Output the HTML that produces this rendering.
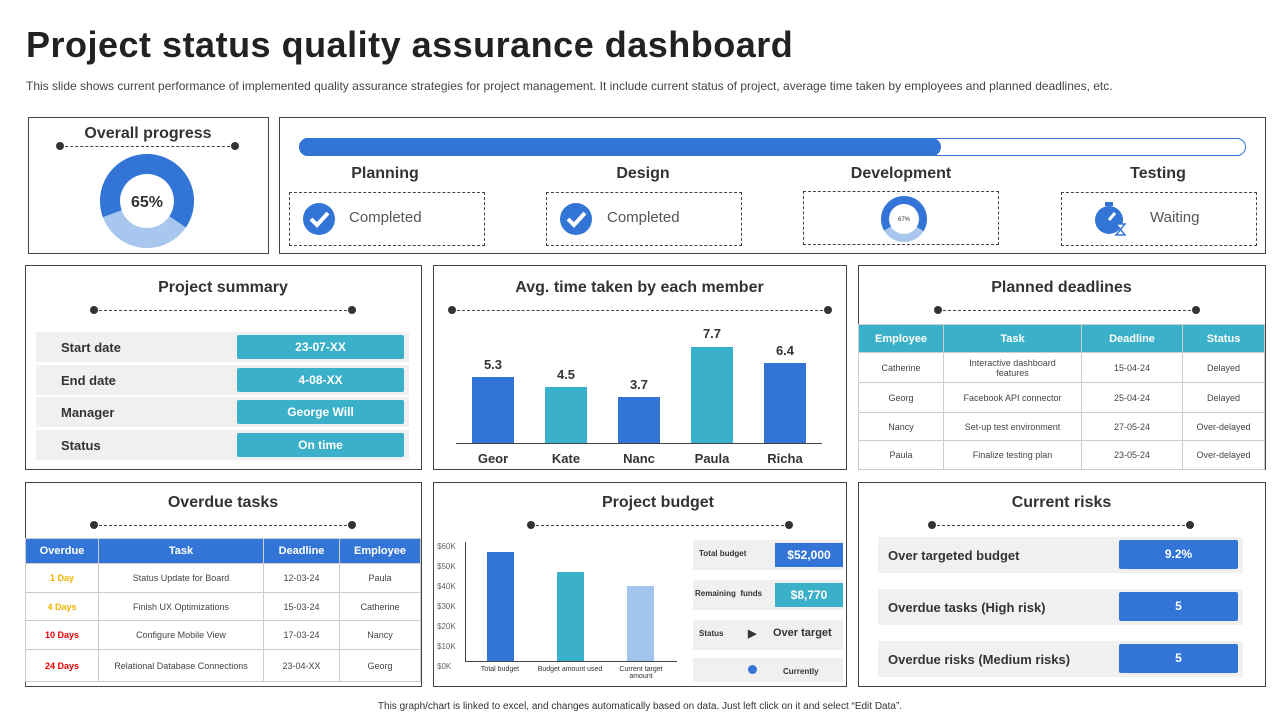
<!DOCTYPE html>
<html><head><meta charset="utf-8"><style>
*{margin:0;padding:0;box-sizing:border-box}
body{width:1280px;height:720px;background:#fff;font-family:"Liberation Sans",sans-serif;color:#333;position:relative;overflow:hidden}
.a{position:absolute}
.p{position:absolute;border:1px solid #444;background:#fff}
.t{position:absolute;font-weight:bold;font-size:16px;color:#333;text-align:center}
.dl{position:absolute;border-top:1.5px dashed #444;height:0}
.dot{position:absolute;width:8px;height:8px;border-radius:50%;background:#333}
.db{position:absolute;border:1px dashed #444}
.row{position:absolute;background:#f0f0f0;font-size:13px;font-weight:bold;color:#333}
.val{position:absolute;background:#3bb0c9;color:#fff;font-weight:bold;font-size:12px;text-align:center;border-radius:2px}
table{border-collapse:collapse;position:absolute;font-size:9px;color:#444}
td,th{border:1px solid #ccc;text-align:center}
th{color:#fff;font-size:11px}
</style></head><body>
<div class="a" style="left:26px;top:24px;font-size:36px;font-weight:bold;color:#222;letter-spacing:0.5px">Project status quality assurance dashboard</div>
<div class="a" style="left:26px;top:79px;font-size:12px;color:#444">This slide shows current performance of implemented quality assurance strategies for project management. It include current status of project, average time taken by employees and planned deadlines, etc.</div>

<!-- overall -->
<div class="p" style="left:28px;top:117px;width:241px;height:137px"></div>
<div class="t" style="left:28px;top:125px;width:240px">Overall progress</div>
<div class="dl" style="left:60px;top:146px;width:175px"></div><div class="dot" style="left:56px;top:142px"></div><div class="dot" style="left:231px;top:142px"></div>
<svg class="a" style="left:99px;top:153px" width="96" height="96" viewBox="-48 -48 96 96">
<circle r="37" fill="none" stroke="#a8c6ee" stroke-width="20"/>
<circle r="37" fill="none" stroke="#3375d6" stroke-width="20" stroke-dasharray="151 233" transform="rotate(-200)"/>
<text x="0" y="6" text-anchor="middle" font-size="16" font-weight="bold" fill="#333" font-family="Liberation Sans">65%</text></svg>

<!-- stages -->
<div class="p" style="left:279px;top:117px;width:987px;height:137px"></div>
<div class="a" style="left:299px;top:138px;width:947px;height:18px;border:1px solid #3375d6;border-radius:9px"></div>
<div class="a" style="left:299px;top:138px;width:642px;height:18px;background:#3375d6;border-radius:9px"></div>
<div class="t" style="left:305px;top:165px;width:160px">Planning</div>
<div class="t" style="left:563px;top:165px;width:160px">Design</div>
<div class="t" style="left:821px;top:165px;width:160px">Development</div>
<div class="t" style="left:1078px;top:165px;width:160px">Testing</div>
<div class="db" style="left:289px;top:192px;width:196px;height:54px"></div>
<div class="db" style="left:546px;top:192px;width:196px;height:54px"></div>
<div class="db" style="left:803px;top:191px;width:196px;height:54px"></div>
<div class="db" style="left:1061px;top:192px;width:196px;height:54px"></div>
<svg class="a" style="left:302px;top:202px" width="34" height="34"><circle cx="17" cy="17" r="16" fill="#3375d6"/><path d="M9 17 l6 6 l11 -12" stroke="#fff" stroke-width="4" fill="none"/></svg>
<div class="a" style="left:349px;top:209px;font-size:15px;color:#555">Completed</div>
<svg class="a" style="left:559px;top:202px" width="34" height="34"><circle cx="17" cy="17" r="16" fill="#3375d6"/><path d="M9 17 l6 6 l11 -12" stroke="#fff" stroke-width="4" fill="none"/></svg>
<div class="a" style="left:607px;top:209px;font-size:15px;color:#555">Completed</div>
<svg class="a" style="left:879px;top:194px" width="50" height="50" viewBox="-25 -25 50 50"><circle r="19" fill="none" stroke="#a8c6ee" stroke-width="8"/><circle r="19" fill="none" stroke="#3375d6" stroke-width="8" stroke-dasharray="80 120" transform="rotate(-210)"/><text y="2" text-anchor="middle" font-size="6" fill="#333">67%</text></svg>
<svg class="a" style="left:1094px;top:200px" width="34" height="36"><circle cx="15" cy="20" r="14" fill="#3375d6"/><rect x="11" y="2" width="8" height="4" fill="#3375d6"/><path d="M15 20 l6 -7" stroke="#fff" stroke-width="3"/><path d="M22 24 h9 l-9 11 h9 z" fill="#fff" stroke="#3375d6" stroke-width="1.5"/></svg>
<div class="a" style="left:1150px;top:209px;font-size:15px;color:#555">Waiting</div>

<!-- project summary -->
<div class="p" style="left:25px;top:265px;width:397px;height:205px"></div>
<div class="t" style="left:25px;top:279px;width:396px">Project summary</div>
<div class="dl" style="left:94px;top:310px;width:258px"></div><div class="dot" style="left:90px;top:306px"></div><div class="dot" style="left:348px;top:306px"></div>
<div class="row" style="left:36px;top:332px;width:373px;height:30px;padding:8px 25px">Start date</div>
<div class="row" style="left:36px;top:365px;width:373px;height:30px;padding:8px 25px">End date</div>
<div class="row" style="left:36px;top:397px;width:373px;height:30px;padding:8px 25px">Manager</div>
<div class="row" style="left:36px;top:430px;width:373px;height:30px;padding:8px 25px">Status</div>
<div class="val" style="left:237px;top:335px;width:167px;height:24px;line-height:24px">23-07-XX</div>
<div class="val" style="left:237px;top:368px;width:167px;height:24px;line-height:24px">4-08-XX</div>
<div class="val" style="left:237px;top:400px;width:167px;height:24px;line-height:24px">George Will</div>
<div class="val" style="left:237px;top:433px;width:167px;height:24px;line-height:24px">On time</div>

<!-- avg time -->
<div class="p" style="left:433px;top:265px;width:414px;height:205px"></div>
<div class="t" style="left:433px;top:279px;width:413px">Avg. time taken by each member</div>
<div class="dl" style="left:452px;top:310px;width:376px"></div><div class="dot" style="left:448px;top:306px"></div><div class="dot" style="left:824px;top:306px"></div>
<div class="a" style="left:456px;top:443px;width:366px;height:1px;background:#444"></div>
<div class="a" style="left:472px;top:377px;width:42px;height:66px;background:#3375d6"></div>
<div class="a" style="left:545px;top:387px;width:42px;height:56px;background:#3bb0c9"></div>
<div class="a" style="left:618px;top:397px;width:42px;height:46px;background:#3375d6"></div>
<div class="a" style="left:691px;top:347px;width:42px;height:96px;background:#3bb0c9"></div>
<div class="a" style="left:764px;top:363px;width:42px;height:80px;background:#3375d6"></div>
<div class="a" style="left:463px;top:357px;width:60px;text-align:center;font-size:13px;font-weight:bold">5.3</div>
<div class="a" style="left:536px;top:367px;width:60px;text-align:center;font-size:13px;font-weight:bold">4.5</div>
<div class="a" style="left:609px;top:377px;width:60px;text-align:center;font-size:13px;font-weight:bold">3.7</div>
<div class="a" style="left:682px;top:326px;width:60px;text-align:center;font-size:13px;font-weight:bold">7.7</div>
<div class="a" style="left:755px;top:343px;width:60px;text-align:center;font-size:13px;font-weight:bold">6.4</div>
<div class="a" style="left:463px;top:451px;width:60px;text-align:center;font-size:13px;font-weight:bold">Geor</div>
<div class="a" style="left:536px;top:451px;width:60px;text-align:center;font-size:13px;font-weight:bold">Kate</div>
<div class="a" style="left:609px;top:451px;width:60px;text-align:center;font-size:13px;font-weight:bold">Nanc</div>
<div class="a" style="left:682px;top:451px;width:60px;text-align:center;font-size:13px;font-weight:bold">Paula</div>
<div class="a" style="left:755px;top:451px;width:60px;text-align:center;font-size:13px;font-weight:bold">Richa</div>

<!-- planned deadlines -->
<div class="p" style="left:858px;top:265px;width:408px;height:205px"></div>
<div class="t" style="left:858px;top:279px;width:407px">Planned deadlines</div>
<div class="dl" style="left:938px;top:310px;width:258px"></div><div class="dot" style="left:934px;top:306px"></div><div class="dot" style="left:1192px;top:306px"></div>
<table style="left:858px;top:324px;width:407px">
<tr style="height:28px;background:#3bb0c9"><th style="width:85px">Employee</th><th style="width:138px">Task</th><th style="width:101px">Deadline</th><th>Status</th></tr>
<tr style="height:30px"><td>Catherine</td><td>Interactive dashboard<br>features</td><td>15-04-24</td><td>Delayed</td></tr>
<tr style="height:30px"><td>Georg</td><td>Facebook API connector</td><td>25-04-24</td><td>Delayed</td></tr>
<tr style="height:28px"><td>Nancy</td><td>Set-up test environment</td><td>27-05-24</td><td>Over-delayed</td></tr>
<tr style="height:29px"><td>Paula</td><td>Finalize testing plan</td><td>23-05-24</td><td>Over-delayed</td></tr>
</table>

<!-- overdue -->
<div class="p" style="left:25px;top:482px;width:397px;height:205px"></div>
<div class="t" style="left:25px;top:494px;width:396px">Overdue tasks</div>
<div class="dl" style="left:94px;top:525px;width:258px"></div><div class="dot" style="left:90px;top:521px"></div><div class="dot" style="left:348px;top:521px"></div>
<table style="left:25px;top:538px;width:396px">
<tr style="height:25px;background:#3375d6"><th style="width:73px">Overdue</th><th style="width:165px">Task</th><th style="width:76px">Deadline</th><th>Employee</th></tr>
<tr style="height:29px"><td style="color:#f0b400;font-weight:bold">1 Day</td><td>Status Update for Board</td><td>12-03-24</td><td>Paula</td></tr>
<tr style="height:28px"><td style="color:#f0b400;font-weight:bold">4 Days</td><td>Finish UX Optimizations</td><td>15-03-24</td><td>Catherine</td></tr>
<tr style="height:29px"><td style="color:#e00;font-weight:bold">10 Days</td><td>Configure Mobile View</td><td>17-03-24</td><td>Nancy</td></tr>
<tr style="height:32px"><td style="color:#e00;font-weight:bold">24 Days</td><td>Relational Database Connections</td><td>23-04-XX</td><td>Georg</td></tr>
</table>

<!-- budget -->
<div class="p" style="left:433px;top:482px;width:414px;height:205px"></div>
<div class="t" style="left:395px;top:494px;width:526px">Project budget</div>
<div class="dl" style="left:531px;top:525px;width:258px"></div><div class="dot" style="left:527px;top:521px"></div><div class="dot" style="left:785px;top:521px"></div>
<div class="a" style="left:465px;top:542px;width:1px;height:120px;background:#444"></div>
<div class="a" style="left:465px;top:661px;width:212px;height:1px;background:#444"></div>
<div class="a" style="left:437px;top:537px;font-size:8px;color:#666;line-height:20px">$60K<br>$50K<br>$40K<br>$30K<br>$20K<br>$10K<br>$0K</div>
<div class="a" style="left:487px;top:552px;width:27px;height:109px;background:#3375d6"></div>
<div class="a" style="left:557px;top:572px;width:27px;height:89px;background:#3bb0c9"></div>
<div class="a" style="left:627px;top:586px;width:27px;height:75px;background:#a3c4ec"></div>
<div class="a" style="left:470px;top:666px;width:60px;text-align:center;font-size:7px">Total budget</div>
<div class="a" style="left:530px;top:666px;width:80px;text-align:center;font-size:7px">Budget amount used</div>
<div class="a" style="left:610px;top:666px;width:62px;text-align:center;font-size:7px">Current target amount</div>
<div class="row" style="left:693px;top:540px;width:150px;height:30px;font-size:8px;padding:9px 6px">Total budget</div>
<div class="a" style="left:775px;top:543px;width:68px;height:24px;background:#3375d6;color:#fff;font-weight:bold;font-size:12px;text-align:center;line-height:24px">$52,000</div>
<div class="row" style="left:693px;top:580px;width:150px;height:30px;font-size:8px;padding:9px 2px">Remaining &nbsp;funds</div>
<div class="a" style="left:775px;top:583px;width:68px;height:24px;background:#3bb0c9;color:#fff;font-weight:bold;font-size:12px;text-align:center;line-height:24px">$8,770</div>
<div class="row" style="left:693px;top:620px;width:150px;height:30px;font-size:8px;padding:9px 6px">Status<span style="position:absolute;left:55px;top:7px;font-size:11px">&#9654;</span><span style="position:absolute;left:80px;top:7px;font-size:11px">Over target</span></div>
<div class="row" style="left:693px;top:658px;width:150px;height:24px;font-size:8px"><span style="position:absolute;left:55px;top:7px;width:9px;height:9px;border-radius:50%;background:#3375d6"></span><span style="position:absolute;left:90px;top:9px">Currently</span></div>

<!-- risks -->
<div class="p" style="left:858px;top:482px;width:408px;height:205px"></div>
<div class="t" style="left:858px;top:494px;width:407px">Current risks</div>
<div class="dl" style="left:932px;top:525px;width:258px"></div><div class="dot" style="left:928px;top:521px"></div><div class="dot" style="left:1186px;top:521px"></div>
<div class="row" style="left:878px;top:537px;width:365px;height:36px;padding:11px 10px">Over targeted budget</div>
<div class="row" style="left:878px;top:589px;width:365px;height:36px;padding:11px 10px">Overdue tasks (High risk)</div>
<div class="row" style="left:878px;top:641px;width:365px;height:36px;padding:11px 10px">Overdue risks (Medium risks)</div>
<div class="a" style="left:1119px;top:540px;width:119px;height:29px;background:#3375d6;color:#fff;font-weight:bold;font-size:12px;text-align:center;line-height:29px;border-radius:2px">9.2%</div>
<div class="a" style="left:1119px;top:592px;width:119px;height:29px;background:#3375d6;color:#fff;font-weight:bold;font-size:12px;text-align:center;line-height:29px;border-radius:2px">5</div>
<div class="a" style="left:1119px;top:644px;width:119px;height:29px;background:#3375d6;color:#fff;font-weight:bold;font-size:12px;text-align:center;line-height:29px;border-radius:2px">5</div>

<div class="a" style="left:0;top:701px;width:1280px;text-align:center;font-size:10px;color:#333">This graph/chart is linked to excel, and changes automatically based on data. Just left click on it and select “Edit Data”.</div>
</body></html>
